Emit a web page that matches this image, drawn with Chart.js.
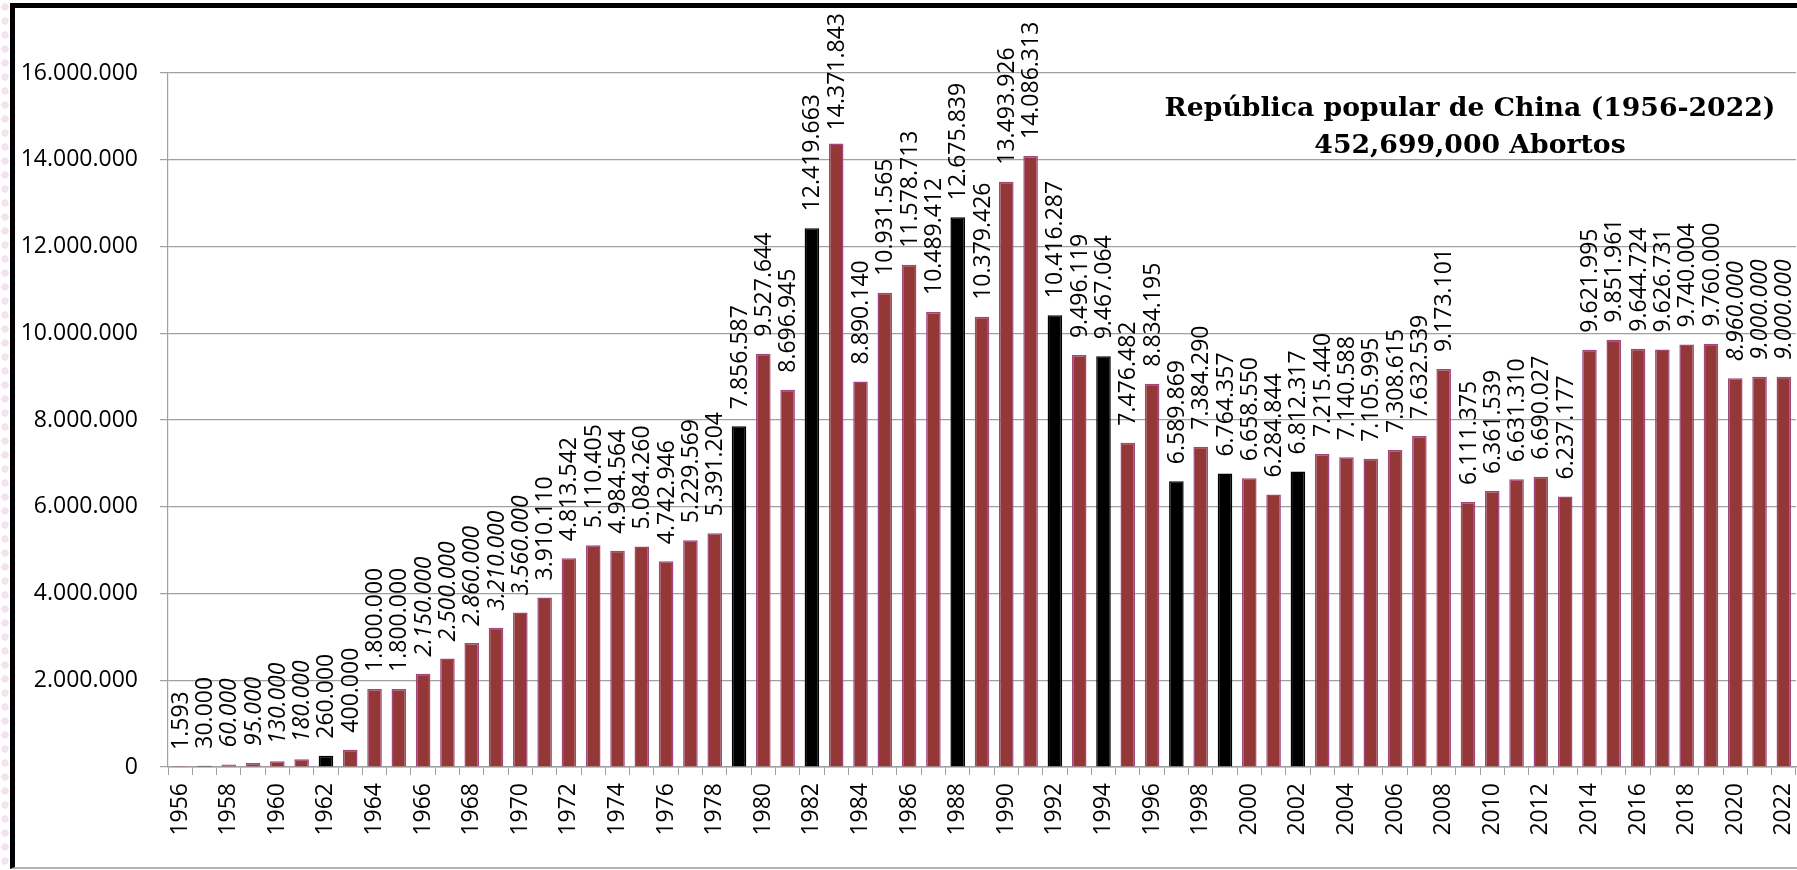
<!DOCTYPE html>
<html>
<head>
<meta charset="utf-8">
<script src="https://cdn.jsdelivr.net/npm/chart.js@4"></script>
<style>
html,body{margin:0;padding:0;background:#fff;width:1797px;height:870px;overflow:hidden}
#wrap{position:relative;width:1797px;height:870px}
#dots{position:absolute;left:0;top:0;width:10px;height:870px;background-image:radial-gradient(circle,#f3e3f1 40%,transparent 46%);background-size:10px 14px}
#frame{position:absolute;left:10px;top:3px;right:-20px;bottom:1px;border-top:5px solid #000;border-left:5px solid #000;border-bottom:2px solid #b4b4b4}
canvas{position:absolute;left:0;top:0}
</style>
</head>
<body>
<div id="wrap">
  <div id="dots"></div>
  <div id="frame"></div>
  <canvas id="c" width="1797" height="870"></canvas>
</div>
<script>
const years = ['1956','1957','1958','1959','1960','1961','1962','1963','1964','1965',
  '1966','1967','1968','1969','1970','1971','1972','1973','1974','1975',
  '1976','1977','1978','1979','1980','1981','1982','1983','1984','1985',
  '1986','1987','1988','1989','1990','1991','1992','1993','1994','1995',
  '1996','1997','1998','1999','2000','2001','2002','2003','2004','2005',
  '2006','2007','2008','2009','2010','2011','2012','2013','2014','2015',
  '2016','2017','2018','2019','2020','2021','2022'];

const abortos = [1593,30000,60000,95000,130000,180000,260000,400000,1800000,1800000,
  2150000,2500000,2860000,3210000,3560000,3910110,4813542,5110405,4984564,5084260,
  4742946,5229569,5391204,7856587,9527644,8696945,12419663,14371843,8890140,10931565,
  11578713,10489412,12675839,10379426,13493926,14086313,10416287,9496119,9467064,7476482,
  8834195,6589869,7384290,6764357,6658550,6284844,6812317,7215440,7140588,7105995,
  7308615,7632539,9173101,6111375,6361539,6631310,6690027,6237177,9621995,9851961,
  9644724,9626731,9740004,9760000,8960000,9000000,9000000];

const blackYears = ['1957','1962','1979','1982','1988','1992','1994','1997','1999','2002'];
const italicYears = ['1958','1959','1960','1961','1966','1967','1968','1969','1970','2020','2021','2022'];

const yTicks = [0,2000000,4000000,6000000,8000000,10000000,12000000,14000000,16000000];

const titleLines = ['República popular de China (1956-2022)','452,699,000 Abortos'];

function fmt(n){ return String(n).replace(/\B(?=(\d{3})+(?!\d))/g,'.'); }

const barFill = years.map(y => blackYears.includes(y) ? '#000000' : '#943737');
const barBorder = years.map(y => blackYears.includes(y) ? '#000000' : '#a3467c');

const valueLabels = {
  id:'valueLabels',
  afterDatasetsDraw(chart){
    const ctx = chart.ctx;
    const meta = chart.getDatasetMeta(0);
    meta.data.forEach((bar,i)=>{
      const txt = fmt(abortos[i]);
      const it = italicYears.includes(years[i]);
      ctx.save();
      ctx.font = (it ? 'italic ' : '') + '23px "Open Sans"';
      const w = ctx.measureText(txt).width;
      let start = bar.y - 17;
      if (start - w < 13) start = 13 + w;
      ctx.translate(bar.x + 1, start);
      ctx.rotate(-Math.PI/2);
      ctx.fillStyle = '#000';
      ctx.textAlign = 'left';
      ctx.textBaseline = 'middle';
      ctx.fillText(txt, 0, 0);
      ctx.restore();
    });
  }
};

const titlePlugin = {
  id:'insideTitle',
  afterDraw(chart){
    const ctx = chart.ctx;
    ctx.save();
    ctx.font = 'bold 26.7px "DejaVu Serif"';
    ctx.fillStyle = '#000';
    ctx.textAlign = 'center';
    ctx.textBaseline = 'alphabetic';
    ctx.fillText(titleLines[0], 1470, 116);
    ctx.fillText(titleLines[1], 1470, 153);
    ctx.restore();
  }
};

new Chart(document.getElementById('c'), {
  type:'bar',
  data:{
    labels: years,
    datasets:[{
      data: abortos,
      backgroundColor: barFill,
      borderColor: barBorder,
      borderWidth: 1.5,
      barPercentage: 0.6,
      categoryPercentage: 1.0
    }]
  },
  options:{
    responsive:false,
    animation:false,
    devicePixelRatio:1,
    layout:{padding:{left:0,right:1,top:73,bottom:0}},
    plugins:{legend:{display:false},title:{display:false},tooltip:{enabled:false}},
    scales:{
      x:{
        offset:true,
        grid:{offset:true,drawOnChartArea:false,drawTicks:true,tickLength:8,color:'#a0a0a0',lineWidth:1},
        border:{display:true,color:'#a0a0a0',width:1.5},
        ticks:{
          autoSkip:false,minRotation:90,maxRotation:90,padding:8,color:'#000',
          font:{family:'"Open Sans"',size:23},
          callback:function(v,i){ return i%2===0 ? years[i] : ''; }
        },
        afterFit(scale){ scale.height = 103; scale.paddingLeft = 0; scale.paddingRight = 0; }
      },
      y:{
        min:0,max:16000000,
        afterBuildTicks(scale){ scale.ticks = yTicks.map(v=>({value:v})); },
        grid:{color:'#a0a0a0',lineWidth:1.2,tickLength:8,drawTicks:true},
        border:{display:true,color:'#a0a0a0',width:1.2},
        ticks:{
          padding:22,color:'#000',
          font:{family:'"Open Sans"',size:23},
          callback:function(v){ return fmt(v); }
        },
        afterFit(scale){ scale.width = 168; scale.paddingTop = 0; scale.paddingBottom = 0; }
      }
    }
  },
  plugins:[valueLabels,titlePlugin]
});
</script>
</body>
</html>
